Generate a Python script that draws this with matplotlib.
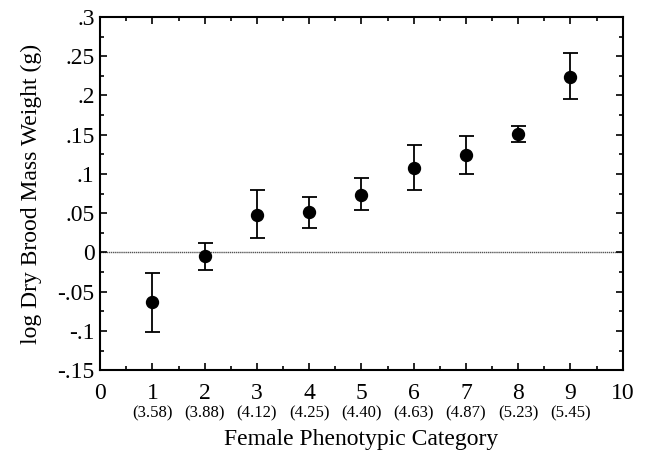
import matplotlib
matplotlib.use("Agg")
import matplotlib.pyplot as plt
from matplotlib.ticker import MultipleLocator, FuncFormatter
from matplotlib.transforms import blended_transform_factory

plt.rcParams['font.family'] = ['Liberation Serif', 'DejaVu Serif']

categories = [1, 2, 3, 4, 5, 6, 7, 8, 9]
means = [-0.063, -0.005, 0.048, 0.051, 0.073, 0.107, 0.124, 0.151, 0.224]
upper = [-0.026, 0.0115, 0.080, 0.0705, 0.095, 0.1365, 0.148, 0.161, 0.254]
lower = [-0.102, -0.0225, 0.0186, 0.0314, 0.0536, 0.080, 0.100, 0.141, 0.195]
sub_labels = ["(3.58)", "(3.88)", "(4.12)", "(4.25)", "(4.40)", "(4.63)", "(4.87)", "(5.23)", "(5.45)"]

err_lo = [m - l for m, l in zip(means, lower)]
err_hi = [u - m for m, u in zip(means, upper)]

fig = plt.figure(figsize=(6.46, 4.57), dpi=100)
ax = fig.add_axes([0.155, 0.190, 0.809, 0.773])

ax.axhline(0, color='#555555', linewidth=1.0, linestyle=(0, (1, 0.5)), zorder=1)
ax.errorbar(categories, means, yerr=[err_lo, err_hi], fmt='o', color='black',
            markersize=8.6, capsize=5.4, elinewidth=1.3, capthick=1.3, zorder=3)

ax.set_xlim(0, 10)
ax.set_ylim(-0.15, 0.3)
ax.xaxis.set_major_locator(MultipleLocator(1))
ax.xaxis.set_minor_locator(MultipleLocator(0.5))
ax.yaxis.set_major_locator(MultipleLocator(0.05))
ax.yaxis.set_minor_locator(MultipleLocator(0.025))

def yfmt(v, pos):
    if abs(v) < 1e-9:
        return "0"
    s = f"{v:.2f}".rstrip('0')
    s = s.replace("0.", ".")
    return s

ax.yaxis.set_major_formatter(FuncFormatter(yfmt))
ax.tick_params(which='both', direction='in', top=True, right=True, width=1.2)
ax.tick_params(which='major', length=5, labelsize=17)
ax.tick_params(axis='x', which='major', pad=9)
ax.tick_params(axis='y', which='major', pad=4)
ax.tick_params(which='minor', length=3)
for sp in ax.spines.values():
    sp.set_linewidth(1.5)

trans = blended_transform_factory(ax.transData, ax.transAxes)
for c, lab in zip(categories, sub_labels):
    ax.text(c, -0.122, lab, transform=trans, ha='center', va='center', fontsize=12)

ax.set_xlabel("Female Phenotypic Category", fontsize=17)
ax.xaxis.set_label_coords(0.5, -0.166)
ax.set_ylabel("log Dry Brood Mass Weight (g)", fontsize=17, labelpad=11)

fig.savefig("out.png", dpi=100)
